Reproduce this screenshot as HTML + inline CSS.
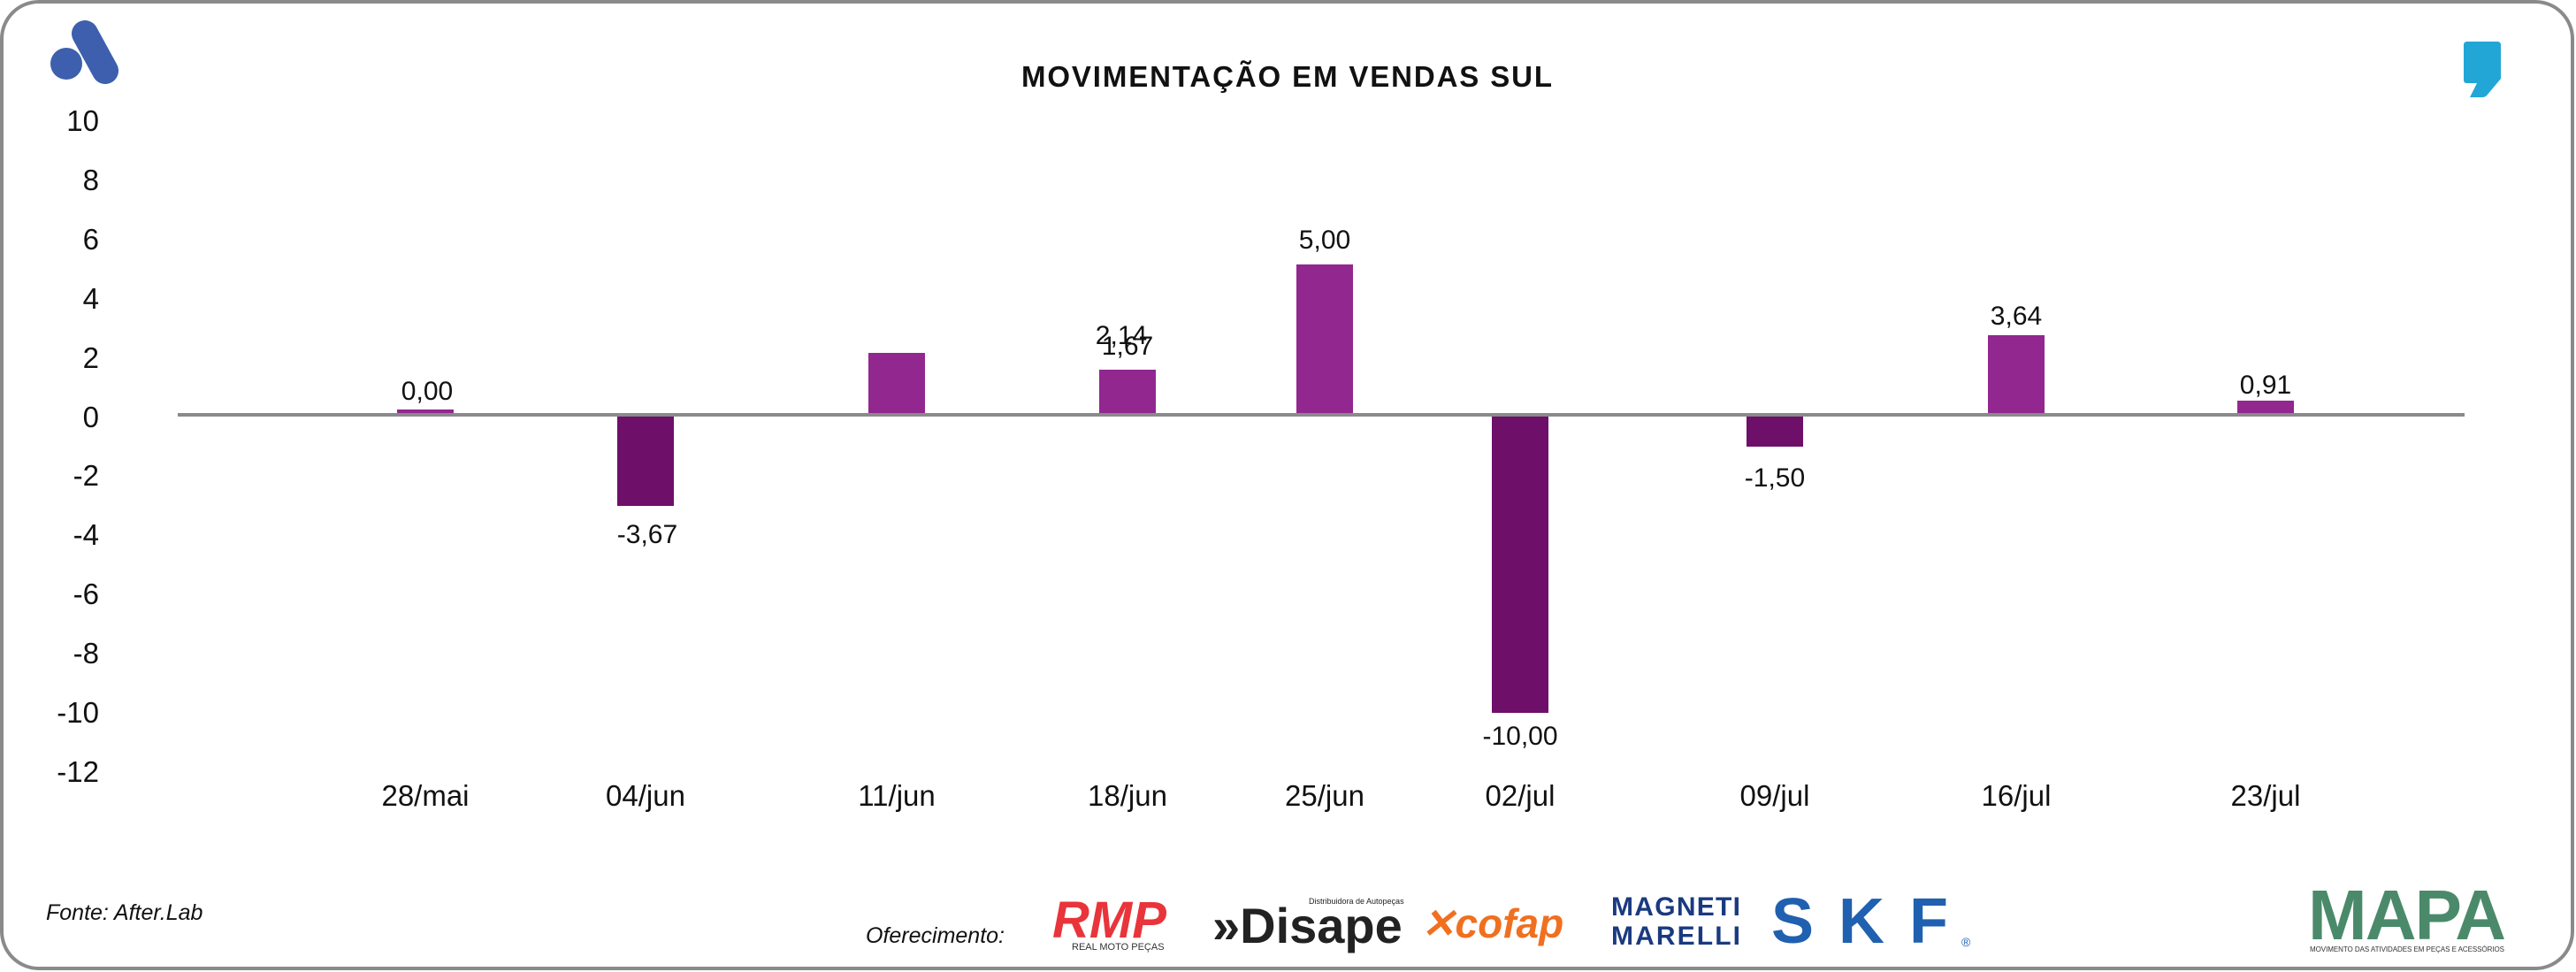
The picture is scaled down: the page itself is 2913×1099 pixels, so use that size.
<!DOCTYPE html>
<html><head><meta charset="utf-8"><style>
html,body{margin:0;padding:0;background:#fff;}
svg{display:block;}
text{font-family:"Liberation Sans",sans-serif;}
</style></head><body>
<svg width="2913" height="1099" viewBox="0 0 2913 1099" xmlns="http://www.w3.org/2000/svg">
<rect x="2" y="2" width="2907" height="1093" rx="42" ry="42" fill="#fff" stroke="#8a8a8c" stroke-width="4"/>
<circle cx="75" cy="72" r="18" fill="#3d5fae"/>
<line x1="96" y1="38" x2="119" y2="80" stroke="#3d5fae" stroke-width="30" stroke-linecap="round"/>
<path d="M2790 47 H2824 Q2828 47 2828 51 V89 L2812 108 Q2810 110 2807 110 H2793 L2801 94 H2789 Q2786 94 2786 90 V51 Q2786 47 2790 47 Z" fill="#22a6d6"/>
<text x="1455" y="98" text-anchor="middle" font-size="33" font-weight="bold" fill="#111" textLength="600">MOVIMENTAÇÃO EM VENDAS SUL</text>
<g font-size="33" fill="#111" text-anchor="end" transform="translate(112,0)">
<text x="0" y="148">10</text><text x="0" y="215">8</text><text x="0" y="282">6</text><text x="0" y="349">4</text><text x="0" y="416">2</text><text x="0" y="483">0</text><text x="0" y="549">-2</text><text x="0" y="616">-4</text><text x="0" y="683">-6</text><text x="0" y="750">-8</text><text x="0" y="817">-10</text><text x="0" y="884">-12</text>
</g>
<g fill="#92278f">
<rect x="449" y="463" width="64" height="7"/>
<rect x="982" y="399" width="64" height="71"/>
<rect x="1243" y="418" width="64" height="52"/>
<rect x="1466" y="299" width="64" height="171"/>
<rect x="2248" y="379" width="64" height="91"/>
<rect x="2530" y="453" width="64" height="17"/>
</g>
<g fill="#6e0f6a">
<rect x="698" y="470" width="64" height="102"/>
<rect x="1687" y="470" width="64" height="336"/>
<rect x="1975" y="470" width="64" height="35"/>
</g>
<rect x="201" y="467" width="2586" height="4" fill="#8a8a8c"/>
<g font-size="30" fill="#111" text-anchor="middle">
<text x="483" y="452">0,00</text>
<text x="732" y="614">-3,67</text>
<text x="1268" y="389">2,14</text>
<text x="1275" y="401">1,67</text>
<text x="1498" y="281">5,00</text>
<text x="1719" y="842">-10,00</text>
<text x="2007" y="550">-1,50</text>
<text x="2280" y="367">3,64</text>
<text x="2562" y="445">0,91</text>
</g>
<g font-size="33" fill="#111" text-anchor="middle">
<text x="481" y="911">28/mai</text><text x="730" y="911">04/jun</text><text x="1014" y="911">11/jun</text><text x="1275" y="911">18/jun</text><text x="1498" y="911">25/jun</text><text x="1719" y="911">02/jul</text><text x="2007" y="911">09/jul</text><text x="2280" y="911">16/jul</text><text x="2562" y="911">23/jul</text>
</g>
<text x="52" y="1040" font-size="25" font-style="italic" fill="#111">Fonte: After.Lab</text>
<text x="979" y="1066" font-size="25" font-style="italic" fill="#111">Oferecimento:</text>
<text x="1190" y="1060" font-size="58" font-weight="bold" font-style="italic" fill="#e8343a">RMP</text>
<text x="1212" y="1074" font-size="11" fill="#333">REAL MOTO PEÇAS</text>
<text x="1371" y="1066" font-size="56" font-weight="bold" fill="#222">»Disape</text>
<text x="1480" y="1022" font-size="9" fill="#222">Distribuidora de Autopeças</text>
<text x="1607" y="1060" font-size="46" font-weight="bold" font-style="italic" fill="#f07020">✕cofap</text>
<text x="1822" y="1035" font-size="30" font-weight="bold" fill="#1a3a80" textLength="146">MAGNETI</text>
<text x="1822" y="1068" font-size="30" font-weight="bold" fill="#1a3a80" textLength="146">MARELLI</text>
<text x="2003" y="1066" font-size="72" font-weight="bold" fill="#2060b0" textLength="200">SKF</text>
<text x="2218" y="1070" font-size="14" fill="#2060b0">®</text>
<text x="2610" y="1062" font-size="80" font-weight="bold" fill="#4a8a6a" textLength="224">MAPA</text>
<text x="2612" y="1076" font-size="8" fill="#333" textLength="220">MOVIMENTO DAS ATIVIDADES EM PEÇAS E ACESSÓRIOS</text>
</svg>
</body></html>
